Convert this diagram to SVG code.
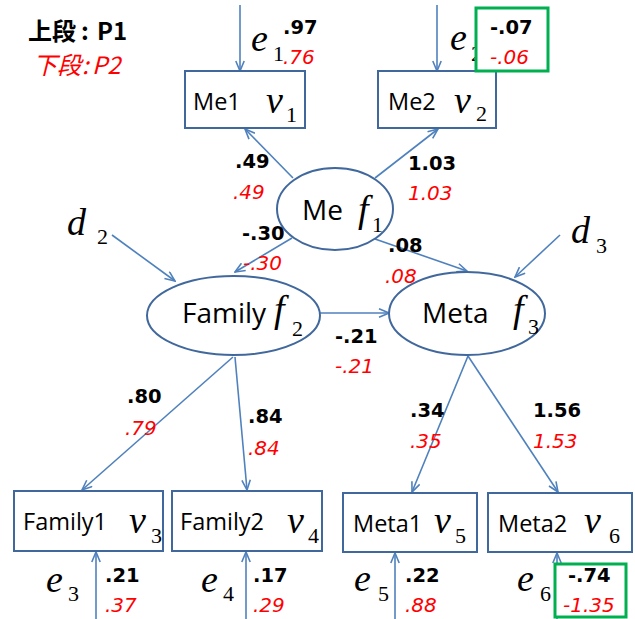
<svg xmlns="http://www.w3.org/2000/svg" width="635" height="619" viewBox="0 0 635 619">
<defs>
<marker id="arr" viewBox="0 0 12 10" refX="11" refY="5" markerWidth="12" markerHeight="10" markerUnits="userSpaceOnUse" orient="auto">
<path d="M1,0.8 L11,5 L1,9.2" fill="none" stroke="#4F81BD" stroke-width="1.6"/>
</marker>
<style>
.ln{stroke:#4F81BD;stroke-width:1.6;fill:none;marker-end:url(#arr)}
.box{fill:#fff;stroke:#41689C;stroke-width:2}
.ell{fill:#fff;stroke:#41689C;stroke-width:2}
.grn{fill:#fff;stroke:#00B050;stroke-width:3}
.lbl{font-family:"Open Sans","Liberation Sans",sans-serif;font-size:23.5px;fill:#000}
.elbl{font-family:"Open Sans","Liberation Sans",sans-serif;font-size:28px;fill:#000}
.m{font-family:"Liberation Serif",serif;font-style:italic;font-size:38px;fill:#000}
.s{font-family:"Liberation Serif",serif;font-size:22px;fill:#000}
.b{font-family:"DejaVu Sans",sans-serif;font-weight:bold;font-size:19.5px;fill:#000}
.r{font-family:"DejaVu Sans",sans-serif;font-style:oblique;font-size:20px;fill:#FF0000}
.lg1{font-family:"Noto Sans CJK JP",sans-serif;font-weight:bold;font-size:24px;fill:#000}
.lg2{font-family:"Noto Sans CJK JP",sans-serif;font-style:italic;font-size:24px;fill:#FF0000}
</style>
</defs>
<rect width="635" height="619" fill="#fff"/>

<g id="legend">
<text class="lg1" x="28" y="40">上段<tspan x="81">:</tspan><tspan x="97">P1</tspan></text>
<text class="lg2" x="33" y="74">下段<tspan x="82">:</tspan><tspan x="92">P2</tspan></text>
</g>

<g id="connectors">
<line class="ln" x1="240" y1="5" x2="240" y2="71"/>
<line class="ln" x1="437" y1="5" x2="437" y2="71"/>
<line class="ln" x1="293" y1="178" x2="245" y2="129"/>
<line class="ln" x1="375" y1="178" x2="438" y2="129"/>
<line class="ln" x1="292" y1="238" x2="235" y2="272"/>
<line class="ln" x1="375" y1="239" x2="467" y2="271"/>
<line class="ln" x1="112" y1="235" x2="175" y2="281"/>
<line class="ln" x1="560" y1="235" x2="515" y2="277"/>
<line class="ln" x1="320" y1="313" x2="389" y2="313"/>
<line class="ln" x1="233" y1="357" x2="82" y2="490"/>
<line class="ln" x1="235" y1="357" x2="247" y2="490"/>
<line class="ln" x1="468" y1="356" x2="412" y2="492"/>
<line class="ln" x1="468" y1="356" x2="558" y2="492"/>
<line class="ln" x1="96" y1="619" x2="96" y2="552"/>
<line class="ln" x1="246" y1="619" x2="246" y2="552"/>
<line class="ln" x1="395" y1="619" x2="395" y2="553"/>
<line class="ln" x1="557" y1="619" x2="557" y2="553"/>
</g>

<g id="Me1">
<rect class="box" x="185" y="71" width="120" height="57"/>
<text class="lbl" x="193" y="110">Me1</text>
<text class="m" x="266" y="113">v</text><text class="s" x="286" y="122">1</text>
</g>
<g id="Me2">
<rect class="box" x="378" y="71" width="118" height="57"/>
<text class="lbl" x="388" y="110">Me2</text>
<text class="m" x="454" y="113">v</text><text class="s" x="476" y="121">2</text>
</g>
<g id="e1">
<text class="m" x="251" y="51">e</text><text class="s" x="273" y="61">1</text>
<text class="b" x="283" y="34">.97</text>
<text class="r" x="283" y="64">.76</text>
</g>
<g id="e2">
<text class="m" x="450" y="50">e</text><text class="s" x="471" y="61">2</text>
<rect class="grn" x="476" y="8" width="72" height="63"/>
<text class="b" x="490" y="34">-.07</text>
<text class="r" x="490" y="64">-.06</text>
</g>

<g id="Me">
<ellipse class="ell" cx="335" cy="209" rx="58" ry="41"/>
<text class="elbl" x="302" y="220">Me</text>
<text class="m" x="358" y="222">f</text><text class="s" x="372" y="232">1</text>
</g>
<g id="Family">
<ellipse class="ell" cx="233.5" cy="315.5" rx="86.5" ry="39.5"/>
<text class="elbl" x="182" y="323">Family</text>
<text class="m" x="274" y="322">f</text><text class="s" x="292" y="336">2</text>
</g>
<g id="Meta">
<ellipse class="ell" cx="467" cy="313.5" rx="78" ry="41.5"/>
<text class="elbl" x="422" y="323">Meta</text>
<text class="m" x="513" y="322">f</text><text class="s" x="528" y="334">3</text>
</g>
<g id="d2">
<text class="m" x="67" y="235">d</text><text class="s" x="97" y="244">2</text>
</g>
<g id="d3">
<text class="m" x="571" y="243">d</text><text class="s" x="596" y="253">3</text>
</g>

<g id="path-labels">
<text class="b" x="235" y="168">.49</text>
<text class="r" x="233" y="199">.49</text>
<text class="b" x="408" y="170">1.03</text>
<text class="r" x="408" y="200">1.03</text>
<text class="b" x="242" y="240">-.30</text>
<text class="r" x="243" y="270">-.30</text>
<text class="b" x="388" y="252">.08</text>
<text class="r" x="385" y="283">.08</text>
<text class="b" x="335" y="343">-.21</text>
<text class="r" x="335" y="373">-.21</text>
<text class="b" x="127" y="403">.80</text>
<text class="r" x="125" y="435">.79</text>
<text class="b" x="248" y="423">.84</text>
<text class="r" x="248" y="455">.84</text>
<text class="b" x="410" y="417">.34</text>
<text class="r" x="410" y="448">.35</text>
<text class="b" x="533" y="417">1.56</text>
<text class="r" x="533" y="448">1.53</text>
</g>

<g id="Family1">
<rect class="box" x="14" y="491" width="149" height="60"/>
<text class="lbl" x="23" y="530">Family1</text>
<text class="m" x="129" y="533">v</text><text class="s" x="151" y="543">3</text>
</g>
<g id="Family2">
<rect class="box" x="172" y="491" width="150" height="60"/>
<text class="lbl" x="180" y="530">Family2</text>
<text class="m" x="287" y="533">v</text><text class="s" x="308" y="543">4</text>
</g>
<g id="Meta1">
<rect class="box" x="343" y="493" width="134" height="59"/>
<text class="lbl" x="353" y="532">Meta1</text>
<text class="m" x="434" y="533">v</text><text class="s" x="455" y="543">5</text>
</g>
<g id="Meta2">
<rect class="box" x="488" y="493" width="144" height="59"/>
<text class="lbl" x="498" y="532">Meta2</text>
<text class="m" x="584" y="533">v</text><text class="s" x="609" y="543">6</text>
</g>

<g id="e3">
<text class="m" x="46" y="592">e</text><text class="s" x="68" y="601">3</text>
<text class="b" x="105" y="582">.21</text>
<text class="r" x="105" y="612">.37</text>
</g>
<g id="e4">
<text class="m" x="201" y="592">e</text><text class="s" x="223" y="601">4</text>
<text class="b" x="253" y="582">.17</text>
<text class="r" x="253" y="612">.29</text>
</g>
<g id="e5">
<text class="m" x="354" y="591">e</text><text class="s" x="378" y="601">5</text>
<text class="b" x="405" y="582">.22</text>
<text class="r" x="405" y="612">.88</text>
</g>
<g id="e6">
<text class="m" x="517" y="591">e</text><text class="s" x="540" y="601">6</text>
<rect class="grn" x="555" y="564" width="71" height="53"/>
<text class="b" x="568" y="582">-.74</text>
<text class="r" x="563" y="612">-1.35</text>
</g>
</svg>
